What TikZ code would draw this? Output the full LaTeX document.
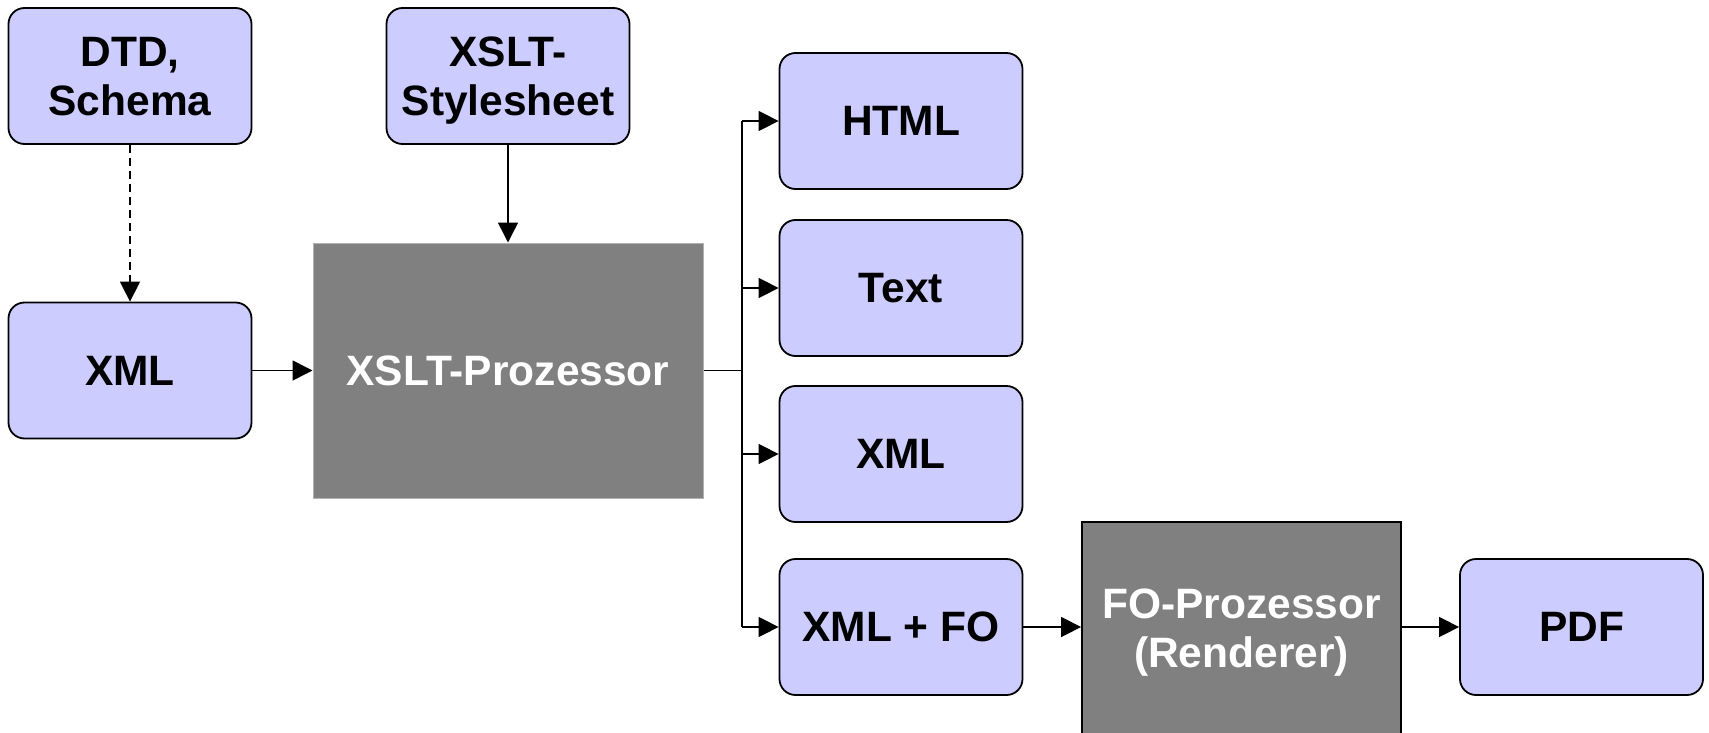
\documentclass[tikz,border=0pt]{standalone}
\usepackage{fontspec}
\setmainfont{Liberation Sans}
\usepackage{color}
\usetikzlibrary{arrows.meta}

\definecolor{lila}{HTML}{CCCCFF}
\definecolor{grau}{HTML}{808080}

\begin{document}
\begin{tikzpicture}[x=1pt,y=-1pt,
	box/.style={draw=black, line width=1.8pt, fill=lila, rounded corners=16pt,
		minimum width=243pt, minimum height=136pt, inner sep=0pt, align=center,
		text depth=0pt, font=\fontsize{42.5}{49}\selectfont\bfseries},
	proz/.style={fill=grau, text=white, inner sep=0pt, align=center,
		text depth=0pt, font=\fontsize{42.5}{49}\selectfont\bfseries},
	pfeil/.style={line width=1.5pt, -{Triangle[length=20pt,width=20pt]}}]
	                %\draw[step=100pt,color=gray] (0,0) grid (1700,700);
			\useasboundingbox (0,0) rectangle (1709,733);
			\node[box] (dtd) at (130,76) {DTD,\\Schema};
			\node[box] (sheet) at (508,76) {XSLT-\\Stylesheet};
			\node[box] (xmlin) at (130,370.5) {XML};
			\node[proz, draw=black!30, line width=1pt, minimum width=390pt, minimum height=255pt] (xslt) at (508,370.5) {XSLT-Prozessor};
			\node[box] (html) at (901,121) {HTML};
			\node[box] (text) at (901,288) {Text};
			\node[box] (xmlout) at (901,454) {XML};
			\node[box] (xmlfo) at (901,627) {XML + FO};
			\node[proz, draw=black, line width=1.8pt, minimum width=319pt, minimum height=212pt] (fo) at (1241.5,628) {FO-Prozessor\\(Renderer)};
			\node[box] (pdf) at (1581.5,627) {PDF};
			\draw[pfeil, dash pattern=on 8pt off 5pt] (dtd) -- (xmlin);
			\draw[pfeil] (sheet) -- (xslt);
			\draw[pfeil] (xmlin) -- (xslt);
			\coordinate (knoten) at (742,370.5);
			\draw[line width=1.5pt] (xslt.east) -- (knoten);
			\draw[line width=1.5pt] (knoten |- html.west) -- (knoten |- xmlfo.west);
			\foreach \z in {html,text,xmlout,xmlfo}
				\draw[pfeil] (knoten |- \z.west) -- (\z.west);
			\draw[pfeil] (xmlfo.east) -- (xmlfo.east -| fo.west);
			\draw[pfeil] (fo.east |- pdf.west) -- (pdf.west);
	\end{tikzpicture}
\end{document}
